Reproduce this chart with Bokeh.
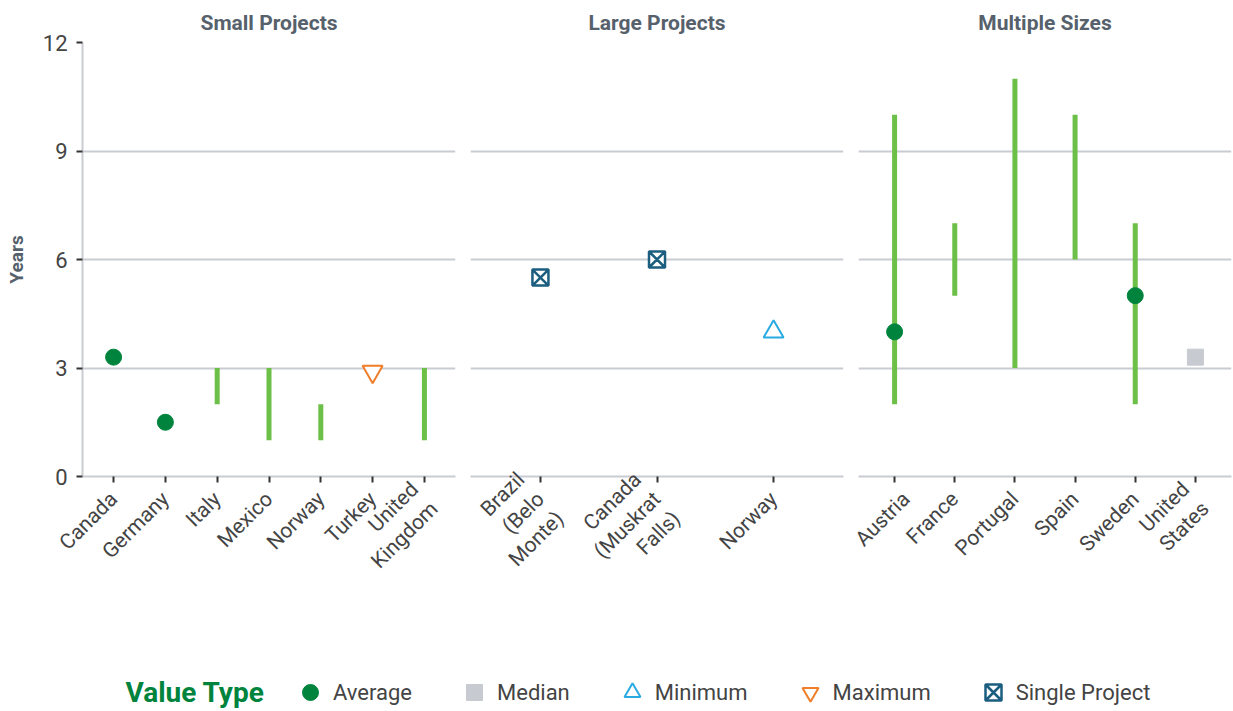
import math
from bokeh.plotting import figure
from bokeh.layouts import column, row
from bokeh.models import (FactorRange, Range1d, FixedTicker, ColumnDataSource,
                          Legend, LegendItem, Label)
from bokeh.embed import file_html
from bokeh.resources import INLINE

nan = float("nan")

# ---------------- data ----------------
panel_titles = ["Small Projects", "Large Projects", "Multiple Sizes"]

small_countries = ["Canada", "Germany", "Italy", "Mexico", "Norway", "Turkey", "United\nKingdom"]
small_low = [nan, nan, 2, 1, 1, nan, 1]
small_high = [nan, nan, 3, 3, 2, nan, 3]
small_average = [3.3, 1.5, nan, nan, nan, nan, nan]
small_median = [nan, nan, nan, nan, nan, nan, nan]
small_minimum = [nan, nan, nan, nan, nan, nan, nan]
small_maximum = [nan, nan, nan, nan, nan, 2.9, nan]
small_single = [nan, nan, nan, nan, nan, nan, nan]

large_countries = ["Brazil\n(Belo\nMonte)", "Canada\n(Muskrat\nFalls)", "Norway"]
large_low = [nan, nan, nan]
large_high = [nan, nan, nan]
large_average = [nan, nan, nan]
large_median = [nan, nan, nan]
large_minimum = [nan, nan, 4.0]
large_maximum = [nan, nan, nan]
large_single = [5.5, 6.0, nan]

multi_countries = ["Austria", "France", "Portugal", "Spain", "Sweden", "United\nStates"]
multi_low = [2, 5, 3, 6, 2, nan]
multi_high = [10, 7, 11, 10, 7, nan]
multi_average = [4.0, nan, nan, nan, 5.0, nan]
multi_median = [nan, nan, nan, nan, nan, 3.3]
multi_minimum = [nan, nan, nan, nan, nan, nan]
multi_maximum = [nan, nan, nan, nan, nan, nan]
multi_single = [nan, nan, nan, nan, nan, nan]

y_ticks = [0, 3, 6, 9, 12]
legend_labels = ["Average", "Median", "Minimum", "Maximum", "Single Project"]
legend_title = "Value Type"

# ---------------- style ----------------
FONT = "Roboto"
RANGE_COLOR = "#6cbf47"
AVG_COLOR = "#00843d"
MED_COLOR = "#c7cad0"
MIN_COLOR = "#29abe2"
MAX_COLOR = "#f07d28"
SINGLE_COLOR = "#1b5e80"
GRID_COLOR = "#c9ccd2"
TEXT_COLOR = "#444444"
TITLE_COLOR = "#56616c"

FRAME_W = 373
FRAME_H = 434


def valid(xs, ys):
    out_x, out_y = [], []
    for x, y in zip(xs, ys):
        if not math.isnan(y):
            out_x.append(x)
            out_y.append(y)
    return dict(x=out_x, y=out_y)


def make_panel(title, countries, low, high, average, median, minimum, maximum, single,
               first=False, last=False):
    p = figure(
        x_range=FactorRange(factors=countries, range_padding=0.1, range_padding_units="absolute"),
        y_range=Range1d(0, 12),
        frame_width=FRAME_W, frame_height=FRAME_H,
        min_border_left=82 if first else 8,
        min_border_right=1 if last else 7,
        min_border_top=42, min_border_bottom=160,
        output_backend="svg", toolbar_location=None,
        title=title,
    )
    p.outline_line_color = None
    p.background_fill_color = "white"
    p.border_fill_color = "white"

    p.title.align = "center"
    p.title.text_font = FONT
    p.title.text_font_size = "21px"
    p.title.text_font_style = "bold"
    p.title.text_color = TITLE_COLOR
    p.title.text_line_height = 1.0
    p.title.standoff = 15

    p.xgrid.visible = False
    p.ygrid.grid_line_color = GRID_COLOR
    p.ygrid.grid_line_width = 2
    p.yaxis.ticker = FixedTicker(ticks=y_ticks)

    p.xaxis.axis_line_color = GRID_COLOR
    p.xaxis.axis_line_width = 2
    p.xaxis.major_tick_line_color = "#333333"
    p.xaxis.major_tick_line_width = 2
    p.xaxis.major_tick_in = 0
    p.xaxis.major_tick_out = 6
    p.xaxis.minor_tick_line_color = None
    p.xaxis.major_label_orientation = math.pi / 4
    p.xaxis.major_label_text_font = FONT
    p.xaxis.major_label_text_font_size = "21px"
    p.xaxis.major_label_text_color = TEXT_COLOR
    p.xaxis.major_label_text_line_height = 1.15
    p.xaxis.major_label_standoff = 13

    if first:
        p.yaxis.axis_line_color = GRID_COLOR
        p.yaxis.axis_line_width = 2
        p.yaxis.major_tick_line_color = "#333333"
        p.yaxis.major_tick_line_width = 2
        p.yaxis.major_tick_in = 0
        p.yaxis.major_tick_out = 6
        p.yaxis.minor_tick_line_color = None
        p.yaxis.major_label_text_font = FONT
        p.yaxis.major_label_text_font_size = "22px"
        p.yaxis.major_label_text_color = TEXT_COLOR
        p.yaxis.major_label_standoff = 9
        p.yaxis.axis_label = "Years"
        p.yaxis.axis_label_text_font = FONT
        p.yaxis.axis_label_text_font_size = "19px"
        p.yaxis.axis_label_text_font_style = "bold"
        p.yaxis.axis_label_text_color = TITLE_COLOR
        p.yaxis.axis_label_standoff = 12
    else:
        p.yaxis.visible = False

    # ranges
    rx, rl, rh = [], [], []
    for c, lo, hi in zip(countries, low, high):
        if not (math.isnan(lo) or math.isnan(hi)):
            rx.append(c); rl.append(lo); rh.append(hi)
    if rx:
        src = ColumnDataSource(dict(x=rx, lo=rl, hi=rh))
        p.segment(x0="x", y0="lo", x1="x", y1="hi", source=src,
                  line_color=RANGE_COLOR, line_width=5, line_cap="butt")

    d = valid(countries, average)
    if d["x"]:
        p.scatter("x", "y", source=ColumnDataSource(d), marker="circle", size=16,
                  fill_color=AVG_COLOR, line_color=AVG_COLOR)
    d = valid(countries, median)
    if d["x"]:
        p.scatter("x", "y", source=ColumnDataSource(d), marker="square", size=16,
                  fill_color=MED_COLOR, line_color=MED_COLOR)
    d = valid(countries, minimum)
    if d["x"]:
        p.scatter("x", "y", source=ColumnDataSource(d), marker="triangle", size=20,
                  fill_color="white", line_color=MIN_COLOR, line_width=2)
    d = valid(countries, maximum)
    if d["x"]:
        p.scatter("x", "y", source=ColumnDataSource(d), marker="inverted_triangle", size=20,
                  fill_color="white", line_color=MAX_COLOR, line_width=2)
    d = valid(countries, single)
    if d["x"]:
        p.scatter("x", "y", source=ColumnDataSource(d), marker="square_x", size=16,
                  fill_color="white", line_color=SINGLE_COLOR, line_width=2.5)
    return p


p1 = make_panel(panel_titles[0], small_countries, small_low, small_high, small_average,
                small_median, small_minimum, small_maximum, small_single, first=True)
p2 = make_panel(panel_titles[1], large_countries, large_low, large_high, large_average,
                large_median, large_minimum, large_maximum, large_single)
p3 = make_panel(panel_titles[2], multi_countries, multi_low, multi_high, multi_average,
                multi_median, multi_minimum, multi_maximum, multi_single, last=True)

# ---------------- legend ----------------
lg = figure(width=1232, height=74, x_axis_type=None, y_axis_type=None,
            x_range=Range1d(0, 1), y_range=Range1d(0, 1),
            min_border=0, output_backend="svg", toolbar_location=None)
lg.grid.visible = False
lg.outline_line_color = None

# legend proxies: one NaN point each (never drawn), only used for legend swatches
proxy = ColumnDataSource(dict(x=[nan], y=[nan]))
r_avg = lg.scatter("x", "y", source=proxy, marker="circle", fill_color=AVG_COLOR, line_color=AVG_COLOR)
r_med = lg.scatter("x", "y", source=proxy, marker="square", fill_color=MED_COLOR, line_color=MED_COLOR)
r_min = lg.scatter("x", "y", source=proxy, marker="triangle", fill_color="white",
                   line_color=MIN_COLOR, line_width=2)
r_max = lg.scatter("x", "y", source=proxy, marker="inverted_triangle", fill_color="white",
                   line_color=MAX_COLOR, line_width=2)
r_sgl = lg.scatter("x", "y", source=proxy, marker="square_x", fill_color="white",
                   line_color=SINGLE_COLOR, line_width=2.5)

legend = Legend(
    items=[LegendItem(label=lab, renderers=[r])
           for lab, r in zip(legend_labels, [r_avg, r_med, r_min, r_max, r_sgl])],
    orientation="horizontal", location=(290, -2),
    glyph_width=40, glyph_height=40, label_standoff=3, spacing=42,
    padding=0, margin=0, border_line_color=None, background_fill_alpha=0,
    label_text_font=FONT, label_text_font_size="22px", label_text_color=TEXT_COLOR,
)
lg.add_layout(legend, "center")

lg.add_layout(Label(x=125, y=18, x_units="screen", y_units="screen", text=legend_title,
                    text_font=FONT, text_font_size="28px", text_font_style="bold",
                    text_color=AVG_COLOR, text_baseline="middle", text_align="left"))

layout = column(row(p1, p2, p3), lg)

open("out.html", "w").write(file_html(layout, INLINE))
